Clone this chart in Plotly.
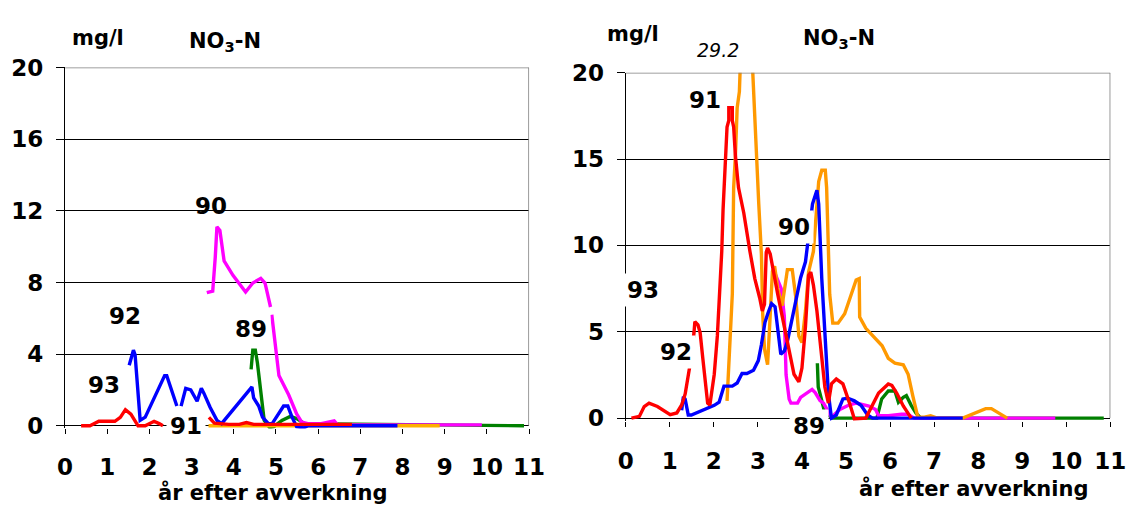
import plotly.graph_objects as go

# --- left panel: NO3-N (mg/l) vs år efter avverkning ---
l89_x = [4.41, 4.45, 4.51, 4.56, 4.64, 4.72, 4.85, 4.95, 5.14, 5.34, 5.49, 5.68, 10.88]
l89_y = [3.15, 4.22, 4.22, 3.5, 1.9, 0.3, -0.1, -0.05, 0.3, 0.52, 0.4, 0.12, 0]

l90_x = [3.36, 3.5, 3.56, 3.6, 3.67, 3.77, 3.98, 4.28, 4.45, 4.64, 4.74, 4.87, None,
         4.9, 5.07, 5.3, 5.49, 5.61, 5.76, 6.07, 6.38, 6.46, 9.88]
l90_y = [7.43, 7.52, 9.4, 11.1, 10.9, 9.2, 8.4, 7.47, 7.97, 8.23, 7.97, 6.63, None,
         6.2, 2.8, 1.73, 0.66, 0.2, 0.12, 0.12, 0.27, 0.05, 0.05]

l91_x = [3.4, 4.5, 8.88]
l91_y = [0, 0, 0]

l92_x = [1.52, 1.62, 1.66, 1.78, 1.9, 2.36, 2.41, 2.51, 2.65, None, 2.75, 2.86, 2.98,
         3.13, 3.23, 3.29, 3.44, 3.6, 3.71, 3.9, 4.43, 4.47, 4.59, 4.68, 4.82, 4.91,
         5.18, 5.28, 5.38, 5.49, 5.65, 5.76, 7.88]
l92_y = [3.38, 4.22, 3.96, 0.3, 0.48, 2.8, 2.8, 2.09, 1.1, None, 1.1, 2.09, 2.0,
         1.37, 2.09, 1.82, 1.02, 0.3, 0.12, 0.66, 2.17, 1.55, 1.1, 0.48, 0.12, 0.12,
         1.1, 1.1, 0.48, -0.05, -0.12, 0, 0]

l93_x = [0.38, 0.59, 0.8, 1.18, 1.31, 1.43, 1.56, 1.73, 1.9, 2.11, 2.23, 2.32, None,
         3.41, 3.54, 3.88, 4.13, 4.3, 4.47, 6.8]
l93_y = [0, 0, 0.25, 0.25, 0.47, 0.9, 0.65, 0, 0, 0.25, 0.12, 0, None,
         0.47, 0.15, 0.08, 0.08, 0.18, 0.08, 0.08]

# --- right panel ---
r89_x = [4.35, 4.37, 4.41, 4.5, 4.67, 5.7, 5.81, 5.96, 6.11, 6.19, 6.3, 6.37, 6.48,
         6.59, 6.7, 10.85]
r89_y = [3.18, 1.8, 1.42, 0.5, 0, 0, 1.11, 1.57, 1.57, 0.92, 1.2, 1.3, 0.74,
         0.28, 0, 0]

r90_x = [3.4, 3.53, 3.6, 3.64, 3.71, 3.75, 3.9, 3.97, 4.23, 4.3, 4.41, 4.49, 4.67,
         4.86, 5.08, 5.23, 5.52, 5.67, 5.74, 5.96, 6.26, 6.4, 6.55, 9.75]
r90_y = [8.3, 7.5, 5.9, 2.5, 1.1, 0.87, 0.87, 1.2, 1.66, 1.48, 1.02, 0.87, 0.05,
         0.5, 0.77, 0.87, 0.7, 0.5, 0.14, 0.14, 0.22, 0.22, 0, 0]

r91_x = [2.3, 2.33, 2.38, 2.42, 2.45, 2.49, 2.53, 2.58, 2.72, 2.93, 2.97, 3.02, 3.08,
         3.11, 3.15, 3.22, 3.27, 3.33, 3.38, 3.45, 3.55, 3.6, 3.67, 3.78, 3.86, 3.93,
         4.0, 4.08, 4.15, 4.26, 4.34, 4.38, 4.45, 4.53, 4.56, 4.6, 4.63, 4.7, 4.82,
         4.97, 5.12, 5.23, 5.3, 5.31, 5.45, 5.67, 5.82, 5.96, 6.11, 6.3, 6.41, 6.52,
         6.63, 6.78, 6.92, 7.07, 7.65, 8.17, 8.3, 8.66]
r91_y = [1.0, 2.54, 5.3, 7.2, 13.35, 15.2, 17.97, 18.9, 29.2, 17.0, 15.0, 12.4, 9.5,
         6.0, 4.0, 3.1, 5.5, 8.5, 8.8, 7.5, 6.5, 7.5, 8.6, 8.6, 7.0, 4.75,
         4.38, 6.2, 8.45, 9.65, 12.6, 13.7, 14.35, 14.35, 13.35, 10.0, 7.17, 5.5, 5.5,
         6.04, 7.17, 8.0, 8.08, 5.85, 5.2, 4.56, 4.19, 3.46, 3.18, 3.09, 2.54, 1.25,
         0.05, 0.05, 0.14, 0, 0, 0.55, 0.55, 0]

r92_x = [1.27, 1.31, 1.35, 1.42, 1.49, 1.68, 1.83, 2.01, 2.12, 2.2, 2.23, 2.42, 2.53,
         2.64, 2.75, 2.9, 3.01, 3.08, 3.16, 3.23, 3.31, 3.39, 3.45, 3.52, 3.6, 3.67,
         3.82, 3.97, 4.08, 4.2, 4.24, 4.34, 4.38, 4.45, 4.52, 4.6, 4.67, 4.78, 4.93,
         5.04, 5.19, 5.34, 5.49, 5.6, 7.65]
r92_y = [0.45, 1.24, 1.1, 0.18, 0.18, 0.37, 0.55, 0.74, 0.92, 1.66, 1.85, 1.85, 2.03,
         2.58, 2.58, 2.77, 3.33, 4.25, 5.53, 6.09, 6.63, 6.45, 5.16, 3.7, 3.88, 4.44,
         6.28, 8.13, 9.05, 11.5, 12.4, 13.2, 12.4, 8.08, 4.75, 1.42, 0, 0.18, 1.11,
         1.15, 1.0, 0.74, 0.18, 0, 0]

r93_x = [0.13, 0.31, 0.42, 0.53, 0.72, 1.01, 1.16, 1.27, 1.35, 1.46, 1.55, 1.57, 1.64,
         1.69, 1.75, 1.86, 1.91, 2.01, 2.08, 2.12, 2.18, 2.21, 2.27, 2.3, 2.34, 2.34,
         2.42, 2.42, 2.45, 2.49, 2.56, 2.68, 2.82, 2.93, 3.04, 3.1, 3.15, 3.19, 3.22,
         3.28, 3.45, 3.67, 3.82, 3.93, 4.0, 4.08, 4.15, 4.2, 4.26, 4.34, 4.45, 4.52,
         4.6, 4.67, 4.78, 4.93, 5.08, 5.19, 5.45, 5.6, 5.74, 5.96, 6.04, 6.15, 6.3, 6.48]
r93_y = [0, 0.1, 0.67, 0.87, 0.67, 0.2, 0.3, 0.76, 1.4, 3.09, 4.94, 5.59, 5.4,
         4.94, 3.46, 0.87, 0.76, 2.54, 4.76, 6.41, 9.65, 12.09, 15.0, 16.86, 17.23, 17.97,
         17.97, 17.23, 16.86, 15.2, 13.35, 11.88, 9.65, 8.08, 6.97, 6.2, 6.6, 9.6, 9.85,
         9.5, 7.17, 4.4, 2.54, 2.1, 2.9, 5.3, 8.27, 8.45, 7.7, 6.2, 3.65, 1.8,
         0.87, 1.98, 2.26, 1.98, 0.87, -0.05, 0, 0.7, 1.45, 1.98, 1.9, 1.45, 0.7, 0]

left_ticks = [0, 4, 8, 12, 16, 20]
right_ticks = [0, 5, 10, 15, 20]
x_ticks = list(range(12))

RED, BLUE, MAG, GREEN = "#FF0000", "#0000FF", "#FF00FF", "#008000"
# the original chart is stretched sideways, DejaVu Sans Bold gives the wide digits
FONT = "DejaVu Sans, Arial, sans-serif"
tickf = dict(family=FONT, size=23, color="black", weight="bold")
bold = dict(family=FONT, size=23, color="black", weight="bold")
head = dict(family=FONT, size=21, color="black", weight="bold")

fig = go.Figure()


def add(xs, ys, color, xa, ya):
    fig.add_trace(go.Scatter(x=xs, y=ys, mode="lines", xaxis=xa, yaxis=ya,
                             line=dict(color=color, width=3.4),
                             showlegend=False, hoverinfo="skip"))


# bottom -> top: green, magenta, orange, blue, red
add(l89_x, l89_y, GREEN, "x", "y")
add(l90_x, l90_y, MAG, "x", "y")
add(l91_x, l91_y, "#FFB000", "x", "y")
add(l92_x, l92_y, BLUE, "x", "y")
add(l93_x, l93_y, RED, "x", "y")

add(r89_x, r89_y, GREEN, "x2", "y2")
add(r90_x, r90_y, MAG, "x2", "y2")
add(r91_x, r91_y, "#FF9900", "x2", "y2")
add(r92_x, r92_y, BLUE, "x2", "y2")
add(r93_x, r93_y, RED, "x2", "y2")

xcommon = dict(range=[0, 11], tickvals=x_ticks, showgrid=False, zeroline=False,
               showline=False, ticks="outside", ticklen=5, tickwidth=1.3,
               tickcolor="black", tickfont=tickf, fixedrange=True)
ycommon = dict(range=[-0.15, 20], showgrid=True, gridcolor="black", gridwidth=1,
               zeroline=True, zerolinecolor="black", zerolinewidth=1.3,
               showline=True, linecolor="black", linewidth=1.3, ticks="outside",
               ticklen=8, tickwidth=1.3, tickcolor="black", tickfont=tickf,
               ticklabelstandoff=8, fixedrange=True)

fig.update_layout(
    width=1141, height=517, margin=dict(l=0, r=0, t=0, b=0),
    plot_bgcolor="white", paper_bgcolor="white",
    xaxis=dict(domain=[0.0511, 0.4665], anchor="y", ticklabelstandoff=13, **xcommon),
    yaxis=dict(domain=[0.159, 0.8897], anchor="x", tickvals=left_ticks, **ycommon),
    xaxis2=dict(domain=[0.553, 0.9869], anchor="y2", ticklabelstandoff=15, **xcommon),
    yaxis2=dict(domain=[0.1747, 0.8791], anchor="x2", tickvals=right_ticks, **ycommon),
)

# grey frame on top and right of each plot area
for xa, ya in (("x", "y"), ("x2", "y2")):
    fig.add_shape(type="line", xref=xa, yref=ya, x0=0, x1=11, y0=20, y1=20,
                  line=dict(color="#808080", width=1.6))
    fig.add_shape(type="line", xref=xa, yref=ya, x0=11, x1=11, y0=0, y1=20,
                  line=dict(color="#808080", width=1.6))


def label(text, x, y, xref, yref, white=False, font=bold, pad=3):
    fig.add_annotation(text=text, x=x, y=y, xref=xref, yref=yref, showarrow=False,
                       xanchor="center", yanchor="middle", font=font,
                       bgcolor="white" if white else None, borderpad=pad)


# left panel texts
label("mg/l", 0.0806, 0.950, "paper", "paper", font=head)
label("NO<sub>3</sub>-N", 0.1946, 0.942, "paper", "paper", font=head)
label("år efter avverkning", 0.2371, 0.030, "paper", "paper", font=head, pad=0)
label("90", 3.47, 12.27, "x", "y")
label("92", 1.43, 6.1, "x", "y")
label("93", 0.93, 2.29, "x", "y")
label("91", 2.86, 0, "x", "y", white=True)
label("89", 4.41, 5.39, "x", "y", white=True)

# right panel texts
label("mg/l", 0.5592, 0.9565, "paper", "paper", font=head)
label("NO<sub>3</sub>-N", 0.7437, 0.947, "paper", "paper", font=head)
label("29.2", 0.636, 0.9246, "paper", "paper",
      font=dict(family=FONT, size=19, color="black", style="italic"))
label("år efter avverkning", 0.8642, 0.0375, "paper", "paper", font=head, pad=0)
label("91", 1.8, 18.4, "x2", "y2")
label("90", 3.81, 11.06, "x2", "y2", white=True)
label("93", 0.4, 7.4, "x2", "y2", white=True)
label("92", 1.15, 3.8, "x2", "y2", white=True)
label("89", 4.17, 0.1644, "x2", "paper", white=True)

# page default body margin would push the 1141x517 figure off the window
fig.write_html("out.html", config={"displayModeBar": False},
               post_script="document.body.style.margin='0';"
                           "document.body.style.overflow='hidden';")
